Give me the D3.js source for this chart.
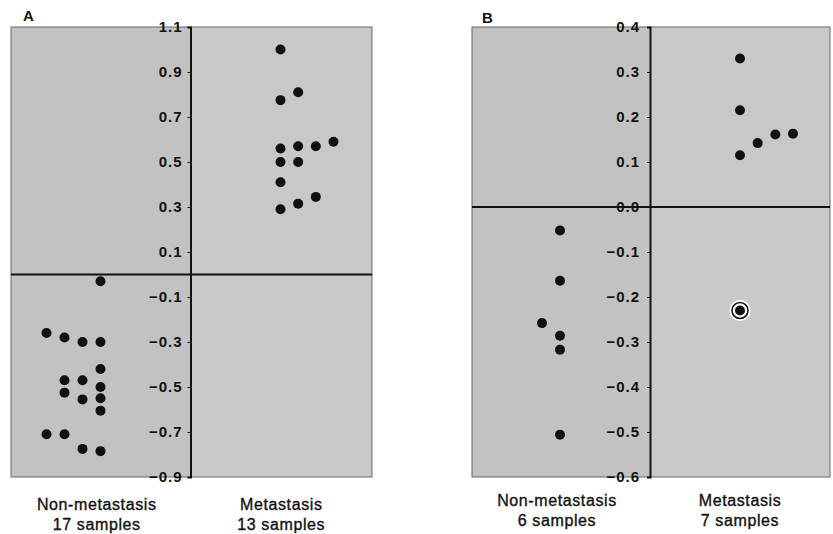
<!DOCTYPE html>
<html>
<head>
<meta charset="utf-8">
<script src="https://cdn.jsdelivr.net/npm/d3@7"></script>
<style>
  body { margin: 0; background: #fff; }
  text { font-family: "Liberation Sans", Arial, sans-serif; fill: #111; }
</style>
</head>
<body>
<div id="chart"></div>
<script>
// ---- data ----
// each group is a list of dot columns; non-metastasis columns run outer -> inner (towards the axis),
// metastasis columns run inner -> outer
var groupNames = ["Non-metastasis", "Metastasis"];

var aTicks = [1.1, 0.9, 0.7, 0.5, 0.3, 0.1, -0.1, -0.3, -0.5, -0.7, -0.9];
var aCounts = ["17 samples", "13 samples"];
var aNon = [
  [-0.26, -0.71],
  [-0.28, -0.47, -0.525, -0.71],
  [-0.30, -0.47, -0.555, -0.775],
  [-0.03, -0.30, -0.42, -0.50, -0.55, -0.605, -0.785]
];
var aMeta = [
  [1.0, 0.775, 0.56, 0.50, 0.41, 0.29],
  [0.81, 0.57, 0.50, 0.315],
  [0.57, 0.345],
  [0.59]
];

var bTicks = [0.4, 0.3, 0.2, 0.1, 0.0, -0.1, -0.2, -0.3, -0.4, -0.5, -0.6];
var bCounts = ["6 samples", "7 samples"];
var bNon = [
  [-0.258],
  [-0.052, -0.164, -0.286, -0.317, -0.506]
];
var bMeta = [
  [0.33, 0.215, 0.115, -0.23],
  [0.142],
  [0.161],
  [0.163]
];
var bCircled = -0.23;   // ringed sample in the metastasis group of B

var svg = d3.select("#chart").append("svg")
  .attr("width", 833)
  .attr("height", 534);

function panel(opt) {
  var g = svg.append("g");
  var y = d3.scaleLinear().domain(opt.domain).range([477, 27]);
  // dot column slots: negative = non-metastasis side, positive = metastasis side
  var x = d3.scaleLinear()
    .domain([-4, -1, 1, 4])
    .range([opt.axis - 144, opt.axis - 90, opt.axis + 90, opt.axis + 143]);

  // background
  g.append("rect")
    .attr("x", opt.left).attr("y", 27)
    .attr("width", opt.axis - opt.left).attr("height", 450)
    .attr("fill", "#c2c2c2");
  g.append("rect")
    .attr("x", opt.axis).attr("y", 27)
    .attr("width", opt.right - opt.axis).attr("height", 450)
    .attr("fill", "#c8c8c8");
  g.append("rect")
    .attr("x", opt.left).attr("y", 27)
    .attr("width", opt.right - opt.left).attr("height", 450)
    .attr("fill", "none")
    .attr("stroke", "#666")
    .attr("stroke-width", 1);

  // zero line
  g.append("line")
    .attr("x1", opt.left).attr("x2", opt.right)
    .attr("y1", y(0)).attr("y2", y(0))
    .attr("stroke", "#111").attr("stroke-width", 2);

  // y axis on the divider
  var ax = g.append("g")
    .attr("transform", "translate(" + opt.axis + ",0)")
    .call(d3.axisLeft(y)
      .tickValues(opt.ticks)
      .tickSize(3)
      .tickPadding(opt.pad)
      .tickFormat(function (d) { return d3.format(".1f")(d).replace("-", "\u2212"); }));
  ax.select(".domain").attr("stroke", "#111").attr("stroke-width", 2);
  ax.selectAll(".tick line").attr("stroke", "#111");
  ax.selectAll(".tick text")
    .style("font-family", "'Liberation Sans', Arial, sans-serif")
    .style("font-size", "15px")
    .style("font-weight", "bold")
    .style("letter-spacing", "1px")
    .attr("fill", "#111");

  // dots
  var pts = [];
  opt.non.forEach(function (col, i) {
    col.forEach(function (v) { pts.push({ slot: -(opt.non.length - i), v: v }); });
  });
  opt.meta.forEach(function (col, i) {
    col.forEach(function (v) { pts.push({ slot: i + 1, v: v }); });
  });

  var circled = pts.filter(function (d) { return d.slot > 0 && d.v === opt.circled; });
  g.selectAll(".halo").data(circled).enter().append("circle")
    .attr("cx", function (d) { return x(d.slot); })
    .attr("cy", function (d) { return y(d.v); })
    .attr("r", 10.5).attr("fill", "#fff");
  g.selectAll(".ring").data(circled).enter().append("circle")
    .attr("cx", function (d) { return x(d.slot); })
    .attr("cy", function (d) { return y(d.v); })
    .attr("r", 8).attr("fill", "#fff")
    .attr("stroke", "#111").attr("stroke-width", 1.6);

  g.selectAll(".dot").data(pts).enter().append("circle")
    .attr("cx", function (d) { return x(d.slot); })
    .attr("cy", function (d) { return y(d.v); })
    .attr("r", 5)
    .attr("fill", "#111");

  // group labels
  var cx = [(opt.left + opt.axis) / 2 - 4, (opt.axis + opt.right) / 2];
  groupNames.forEach(function (name, i) {
    var t = g.append("text")
      .attr("x", cx[i])
      .attr("text-anchor", "middle")
      .style("font-size", "16px")
      .style("letter-spacing", "0.6px")
      .attr("stroke", "#111")
      .attr("stroke-width", 0.35);
    t.append("tspan").attr("x", cx[i]).attr("y", opt.labelY).text(name);
    t.append("tspan").attr("x", cx[i]).attr("y", opt.labelY + 20).text(opt.counts[i]);
  });

  g.append("text")
    .attr("x", opt.letterX).attr("y", opt.letterY)
    .style("font-size", "15px")
    .style("font-weight", "bold")
    .text(opt.letter);
}

panel({ letter: "A", letterX: 23, letterY: 21, left: 11, axis: 190.5, right: 372,
  domain: [-0.9, 1.1], ticks: aTicks, non: aNon, meta: aMeta, counts: aCounts,
  circled: null, pad: 5, labelY: 510 });

panel({ letter: "B", letterX: 482, letterY: 23, left: 472, axis: 650, right: 830,
  domain: [-0.6, 0.4], ticks: bTicks, non: bNon, meta: bMeta, counts: bCounts,
  circled: bCircled, pad: 7, labelY: 506 });
</script>
</body>
</html>
